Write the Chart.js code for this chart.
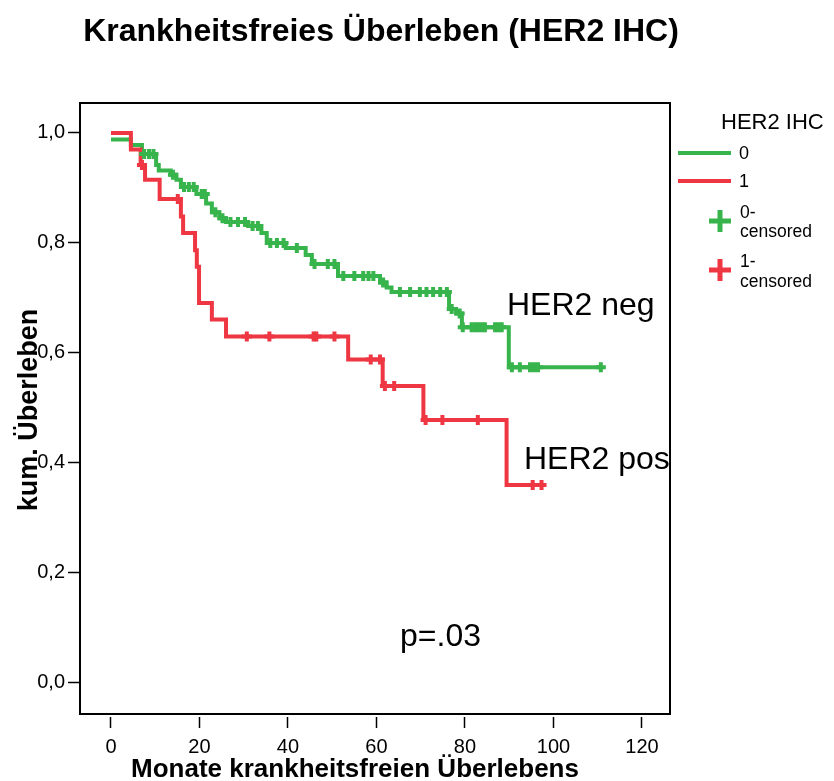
<!DOCTYPE html>
<html>
<head>
<meta charset="utf-8">
<title>Krankheitsfreies Überleben (HER2 IHC)</title>
<script src="https://cdn.jsdelivr.net/npm/chart.js@4.4.1/dist/chart.umd.min.js"></script>
<style>
html,body{margin:0;padding:0;background:#fff;}
</style>
</head>
<body>
<canvas id="mainChart" width="834" height="781"></canvas>
<script>

/* DATA */

const xTicks = [0,20,40,60,80,100,120];
const yTicks = [0,0.2,0.4,0.6,0.8,1.0];

/* HER2 neg (0) */
const negTimes = [0,4.5,7.0,10.2,10.8,13.5,14.8,15.8,19.3,21.5,22.8,24.5,26.0,31.0,34.0,35.2,39.5,44.0,45.4,51.3,60.8,62.3,63.4,76.4,78.0,79.3,89.9];
const negSurv = [0.988,0.978,0.962,0.942,0.932,0.924,0.915,0.902,0.889,0.872,0.856,0.845,0.838,0.831,0.818,0.800,0.791,0.778,0.762,0.740,0.728,0.719,0.711,0.680,0.672,0.647,0.574];
const negCensored = [7.5,8.6,9.6,14.0,16.5,17.6,18.7,20.5,21.2,23.6,25.2,27.0,28.7,30.3,32.0,33.2,36.0,37.5,39.0,42.0,46.0,49.0,50.5,52.5,55.0,57.0,58.2,59.3,61.5,65.3,67.6,69.8,71.3,72.8,74.4,75.9,77.0,78.8,79.5,81.5,82.3,83.0,83.8,84.5,86.8,87.6,88.3,90.6,92.4,94.7,95.6,96.5,110.7];

/* HER2 pos (1) */
const posTimes = [0,4.5,6.7,7.7,11.0,15.8,16.3,19.0,19.4,19.9,22.8,26.0,53.6,61.4,70.6,89.4];
const posSurv = [1.000,0.970,0.942,0.915,0.880,0.848,0.818,0.787,0.757,0.691,0.661,0.630,0.588,0.540,0.478,0.360];
const posCensored = [7.0,15.1,30.7,35.8,45.8,46.4,50.5,58.7,60.8,61.9,64.0,71.1,74.9,82.9,95.3,97.3];

const GREEN = "#37b44b";
const RED = "#ee3742";
const FONT = "'Liberation Sans', Arial, sans-serif";

/* HELPERS */

function stepValue(times, surv, t){
  let v = surv[0];
  for(let i=0;i<times.length;i++){
    if(times[i] <= t) v = surv[i];
  }
  return v;
}

function curve(times, surv, censored){
  const pts = times.map((t,i)=>({x:t, y:surv[i]}));
  const end = censored[censored.length-1];
  pts.push({x:end, y:surv[surv.length-1]});
  return pts;
}

function marks(times, surv, censored){
  return censored.map(t=>({x:t, y:stepValue(times, surv, t)}));
}

/* BOX, LEGEND AND LABELS */

const extras = {
  id:"extras",
  afterDraw(chart){
    const c = chart.ctx;
    const a = chart.chartArea;
    c.save();

    c.strokeStyle = "#000";
    c.lineWidth = 2;
    c.strokeRect(a.left, a.top, a.right-a.left, a.bottom-a.top);

    c.fillStyle = "#000";
    c.textBaseline = "middle";

    /* title */
    c.textAlign = "center";
    c.font = "bold 32px " + FONT;
    c.fillText("Krankheitsfreies Überleben (HER2 IHC)", 381, 32);

    /* axis titles */
    c.font = "bold 26px " + FONT;
    c.fillText("Monate krankheitsfreien Überlebens", 355, 770);
    c.save();
    c.translate(30, 410);
    c.rotate(-Math.PI/2);
    c.font = "bold 27px " + FONT;
    c.fillText("kum. Überleben", 0, 0);
    c.restore();

    /* curve labels */
    c.textAlign = "left";
    c.font = "32px " + FONT;
    c.fillText("HER2 neg", 507, 306);
    c.fillText("HER2 pos", 524, 460);
    c.fillText("p=.03", 400, 637);

    /* legend */
    c.font = "22px " + FONT;
    c.fillText("HER2 IHC", 721, 123);

    c.lineWidth = 4;
    c.strokeStyle = GREEN;
    c.beginPath(); c.moveTo(678,153); c.lineTo(731,153); c.stroke();
    c.strokeStyle = RED;
    c.beginPath(); c.moveTo(678,181); c.lineTo(731,181); c.stroke();

    c.font = "18px " + FONT;
    c.fillText("0", 739, 154);
    c.fillText("1", 739, 182);

    c.lineWidth = 5;
    c.strokeStyle = GREEN;
    c.beginPath();
    c.moveTo(709,221); c.lineTo(731,221);
    c.moveTo(720,210); c.lineTo(720,232);
    c.stroke();
    c.strokeStyle = RED;
    c.beginPath();
    c.moveTo(709,270); c.lineTo(731,270);
    c.moveTo(720,259); c.lineTo(720,281);
    c.stroke();

    c.font = "17.5px " + FONT;
    c.fillText("0-", 740, 213);
    c.fillText("censored", 740, 232);
    c.fillText("1-", 740, 262);
    c.fillText("censored", 740, 282);

    c.restore();
  }
};

/* CHART SETUP */

const ctx =
document.getElementById("mainChart");

const chart = new Chart(ctx, {

type:"line",

data:{

datasets:[

{
label:"1-censored",
type:"scatter",
data:marks(posTimes, posSurv, posCensored),
pointStyle:"cross",
pointRadius:5,
borderColor:RED,
borderWidth:4,
showLine:false
},

{
label:"0-censored",
type:"scatter",
data:marks(negTimes, negSurv, negCensored),
pointStyle:"cross",
pointRadius:5,
borderColor:GREEN,
borderWidth:4,
showLine:false
},

{
label:"1",
data:curve(posTimes, posSurv, posCensored),
borderColor:RED,
borderWidth:4,
stepped:true,
pointRadius:0,
fill:false
},

{
label:"0",
data:curve(negTimes, negSurv, negCensored),
borderColor:GREEN,
borderWidth:4,
stepped:true,
pointRadius:0,
fill:false
}

]

},

options:{

responsive:false,
animation:false,

layout:{
padding:{left:0, right:164, top:103, bottom:0}
},

plugins:{
legend:{display:false},
tooltip:{enabled:false},
title:{display:false}
},

scales:{

x:{
type:"linear",
min:-7.0,
max:126.33,
afterFit:(s)=>{ s.height = 67; },
afterBuildTicks:(s)=>{ s.ticks = xTicks.map(v=>({value:v})); },
border:{display:false},
grid:{
drawOnChartArea:false,
drawTicks:true,
tickLength:14,
tickColor:"#000",
tickWidth:1.5,
tickBorderDash:[11,3],
tickBorderDashOffset:11
},
ticks:{
color:"#000",
padding:7,
maxRotation:0,
font:{family:FONT, size:20}
}
},

y:{
type:"linear",
min:-0.0564,
max:1.0545,
afterFit:(s)=>{ s.width = 80; },
afterBuildTicks:(s)=>{ s.ticks = yTicks.map(v=>({value:v})); },
border:{display:false},
grid:{
drawOnChartArea:false,
drawTicks:true,
tickLength:12,
tickColor:"#000",
tickWidth:1.5
},
ticks:{
color:"#000",
padding:3,
font:{family:FONT, size:20},
callback:(v)=>v.toFixed(1).replace(".", ",")
}
}

}

},

plugins:[extras]

});

</script>
</body>
</html>
